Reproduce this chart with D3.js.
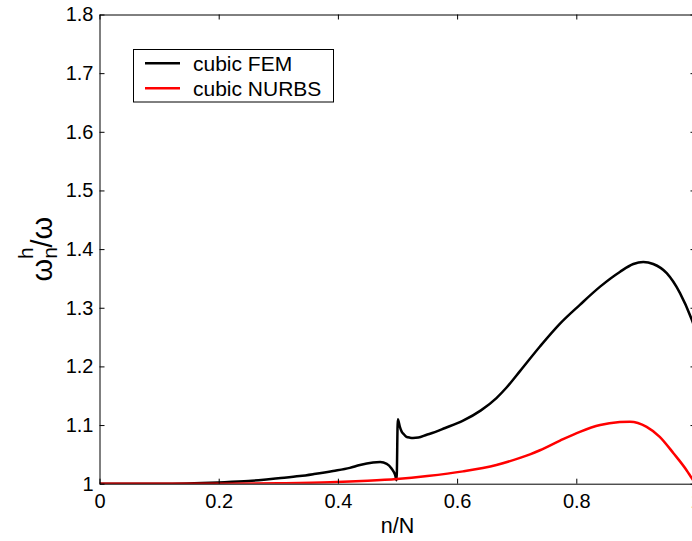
<!DOCTYPE html>
<html>
<head>
<meta charset="utf-8">
<script src="https://cdn.jsdelivr.net/npm/d3@7"></script>
<style>
  body { margin: 0; background: #fff; }
  svg { display: block; font-family: "Liberation Sans", Arial, sans-serif; }
</style>
</head>
<body>
<svg id="chart" width="692" height="541"></svg>
<script>
// values (n/N, omega_h / omega)
var femX = [0, 0.1, 0.2, 0.25, 0.28, 0.3, 0.336, 0.36, 0.392, 0.42, 0.437, 0.459, 0.471, 0.482, 0.49, 0.496, 0.4985,
            0.5005, 0.504, 0.507, 0.51, 0.515, 0.521, 0.526, 0.535, 0.549, 0.5545, 0.58, 0.61, 0.64, 0.666, 0.683, 0.7055,
            0.739, 0.7727, 0.806, 0.84, 0.873, 0.8957, 0.9124, 0.929, 0.9517, 0.974, 0.994, 1.0];
var femY = [1.0, 1.0, 1.0022, 1.0045, 1.0072, 1.0092, 1.013, 1.0165, 1.0217, 1.027, 1.032, 1.036, 1.0368, 1.034, 1.026, 1.015, 1.006,
            1.110, 1.097, 1.0887, 1.085, 1.080, 1.0785, 1.078, 1.0786, 1.0835, 1.0852, 1.095, 1.1075, 1.125, 1.146, 1.164, 1.192,
            1.234, 1.273, 1.305, 1.336, 1.361, 1.3746, 1.378, 1.3746, 1.359, 1.325, 1.279, 1.262];

var nurbsX = [0, 0.2, 0.3, 0.387, 0.45, 0.4987, 0.55, 0.61, 0.666, 0.7055, 0.7223, 0.739, 0.7727, 0.806, 0.84, 0.873,
              0.89, 0.918, 0.94, 0.963, 0.985, 0.994, 1.0];
var nurbsY = [1.0, 1.0, 1.0008, 1.0024, 1.005, 1.008, 1.013, 1.021, 1.032, 1.044, 1.050, 1.057, 1.0735, 1.0885, 1.100, 1.105,
              1.1057, 1.097, 1.080, 1.052, 1.023, 1.009, 1.0];

var xTicks = [0, 0.2, 0.4, 0.6, 0.8, 1];
var yTicks = [1, 1.1, 1.2, 1.3, 1.4, 1.5, 1.6, 1.7, 1.8];
var seriesNames = ["cubic FEM", "cubic NURBS"];
var seriesColors = ["#000000", "#ff0000"];

(function() {
  var svg = d3.select("#chart");
  var mLeft = 99.5, mTop = 14.5, mRight = 695.5, mBottom = 483.7;

  var x = d3.scaleLinear().domain([0, 1]).range([mLeft, mRight]);
  var y = d3.scaleLinear().domain([1, 1.8]).range([mBottom, mTop]);

  var line = d3.line()
      .x(function(d) { return x(d[0]); })
      .y(function(d) { return y(d[1]); })
      .curve(d3.curveMonotoneX);

  svg.append("clipPath").attr("id", "clip")
    .append("rect").attr("x", mLeft).attr("y", mTop - 2)
    .attr("width", mRight - mLeft).attr("height", mBottom - mTop + 2);

  var seriesData = [d3.zip(femX, femY), d3.zip(nurbsX, nurbsY)];

  svg.append("g").selectAll("path.series")
      .data(seriesData)
      .enter().append("path")
      .attr("class", "series")
      .attr("clip-path", "url(#clip)")
      .attr("d", line)
      .attr("fill", "none")
      .attr("stroke", function(d, i) { return seriesColors[i]; })
      .attr("stroke-width", 2.5)
      .attr("stroke-linejoin", "round");

  // box with inward ticks on all four sides
  var fmt = function(d) { return String(+d.toFixed(1)); };
  svg.append("g")
      .attr("transform", "translate(0," + mBottom + ")")
      .call(d3.axisBottom(x).tickValues(xTicks).tickSizeInner(-5).tickSizeOuter(0).tickPadding(10.5).tickFormat(fmt));
  svg.append("g")
      .attr("transform", "translate(0," + mTop + ")")
      .call(d3.axisTop(x).tickValues(xTicks).tickSizeInner(-5).tickSizeOuter(0).tickFormat(""));
  svg.append("g")
      .attr("transform", "translate(" + mLeft + ",0)")
      .call(d3.axisLeft(y).tickValues(yTicks).tickSizeInner(-5).tickSizeOuter(0).tickPadding(6).tickFormat(fmt));
  svg.append("g")
      .attr("transform", "translate(" + mRight + ",0)")
      .call(d3.axisRight(y).tickValues(yTicks).tickSizeInner(-5).tickSizeOuter(0).tickFormat(""));

  svg.selectAll(".domain").attr("stroke", "#000").attr("stroke-width", 1);
  svg.selectAll(".tick line").attr("stroke", "#000");
  svg.selectAll(".tick text")
      .attr("font-family", "Liberation Sans, Arial, sans-serif")
      .attr("font-size", 20)
      .attr("fill", "#000");

  // axis titles
  svg.append("text")
      .attr("x", (mLeft + mRight) / 2)
      .attr("y", 533)
      .attr("text-anchor", "middle")
      .attr("font-size", 21.5)
      .text("n/N");

  var yl = svg.append("text")
      .attr("transform", "translate(52," + ((mTop + mBottom) / 2) + ") rotate(-90)")
      .attr("text-anchor", "middle")
      .attr("font-size", 29);
  yl.append("tspan").text("ω");
  yl.append("tspan").attr("font-size", 21).attr("dy", 5).text("n");
  yl.append("tspan").attr("font-size", 21).attr("dx", -12).attr("dy", -24).text("h");
  yl.append("tspan").attr("dy", 19).text("/ω");

  // legend
  var legend = svg.append("g");
  legend.append("rect")
      .attr("x", 133.5).attr("y", 49.5).attr("width", 200).attr("height", 52.5)
      .attr("fill", "#fff").attr("stroke", "#000").attr("stroke-width", 1);
  var items = legend.selectAll("g.item")
      .data(seriesNames)
      .enter().append("g")
      .attr("class", "item")
      .attr("transform", function(d, i) { return "translate(0," + (63.3 + i * 25) + ")"; });
  items.append("line")
      .attr("x1", 145).attr("x2", 180)
      .attr("stroke", function(d, i) { return seriesColors[i]; })
      .attr("stroke-width", 2.5);
  items.append("text")
      .attr("x", 193).attr("dy", "0.35em")
      .attr("font-size", 21)
      .text(function(d) { return d; });
})();
</script>
</body>
</html>
